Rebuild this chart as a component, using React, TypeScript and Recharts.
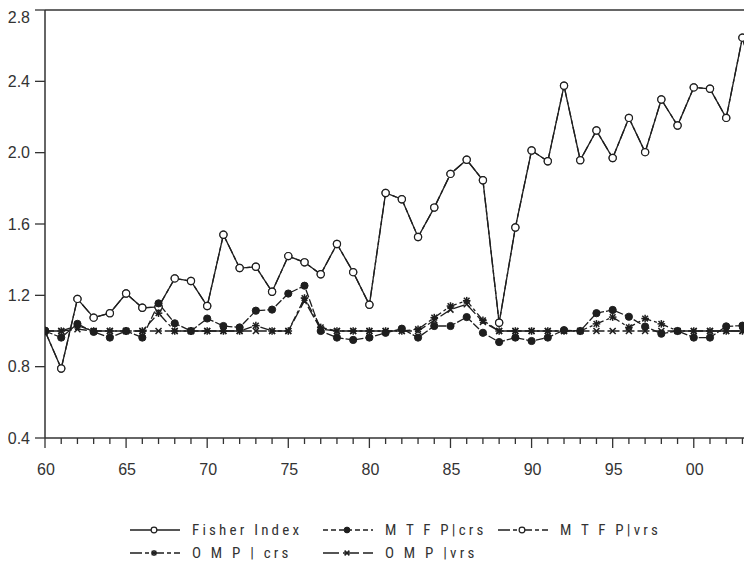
import { ComposedChart, Line, XAxis, YAxis, ReferenceLine, Legend } from "recharts";

// years 1960..2004 (the last one runs off the right edge)
const years = [
  1960, 1961, 1962, 1963, 1964, 1965, 1966, 1967, 1968, 1969,
  1970, 1971, 1972, 1973, 1974, 1975, 1976, 1977, 1978, 1979,
  1980, 1981, 1982, 1983, 1984, 1985, 1986, 1987, 1988, 1989,
  1990, 1991, 1992, 1993, 1994, 1995, 1996, 1997, 1998, 1999,
  2000, 2001, 2002, 2003, 2004,
];

const fisher = [
  1.0, 0.79, 1.18, 1.075, 1.1, 1.21, 1.13, 1.135, 1.295, 1.28,
  1.14, 1.54, 1.353, 1.36, 1.22, 1.42, 1.385, 1.318, 1.488, 1.33,
  1.147, 1.774, 1.739, 1.527, 1.692, 1.881, 1.96, 1.845, 1.046, 1.58,
  2.012, 1.952, 2.375, 1.958, 2.124, 1.97, 2.195, 2.003, 2.298, 2.152,
  2.366, 2.358, 2.195, 2.645, 2.32,
];

const mtfpCrs = [
  1.0, 0.963, 1.04, 0.995, 0.963, 1.0, 0.963, 1.155, 1.043, 1.0,
  1.07, 1.028, 1.02, 1.114, 1.12, 1.21, 1.254, 1.0, 0.963, 0.95,
  0.963, 0.99, 1.013, 0.963, 1.028, 1.028, 1.078, 0.99, 0.938, 0.963,
  0.944, 0.963, 1.005, 1.0, 1.1, 1.118, 1.08, 1.025, 0.985, 1.0,
  0.963, 0.963, 1.026, 1.03, 1.12,
];

// MTFP|vrs sits exactly under the Fisher index line in the picture
const mtfpVrs = [
  1.0, 0.79, 1.18, 1.075, 1.1, 1.21, 1.13, 1.135, 1.295, 1.28,
  1.14, 1.54, 1.353, 1.36, 1.22, 1.42, 1.385, 1.318, 1.488, 1.33,
  1.147, 1.774, 1.739, 1.527, 1.692, 1.881, 1.96, 1.845, 1.046, 1.58,
  2.012, 1.952, 2.375, 1.958, 2.124, 1.97, 2.195, 2.003, 2.298, 2.152,
  2.366, 2.358, 2.195, 2.645, 2.32,
];

const ompCrs = [
  1.0, 1.0, 1.03, 1.0, 1.0, 1.0, 1.0, 1.1, 1.0, 1.0,
  1.0, 1.0, 1.0, 1.03, 1.0, 1.0, 1.185, 1.02, 1.0, 1.0,
  1.0, 1.0, 1.0, 1.01, 1.075, 1.14, 1.17, 1.06, 1.0, 1.0,
  1.0, 1.0, 1.0, 1.0, 1.04, 1.078, 1.02, 1.07, 1.04, 1.0,
  1.0, 1.0, 1.0, 1.0, 1.0,
];

const ompVrs = [
  1.0, 1.0, 1.01, 1.0, 1.0, 1.0, 1.0, 1.0, 1.0, 1.0,
  1.0, 1.0, 1.0, 1.0, 1.0, 1.0, 1.17, 1.01, 1.0, 1.0,
  1.0, 1.0, 1.0, 1.0, 1.06, 1.12, 1.15, 1.05, 1.0, 1.0,
  1.0, 1.0, 1.0, 1.0, 1.0, 1.0, 1.0, 1.0, 1.0, 1.0,
  1.0, 1.0, 1.0, 1.0, 1.0,
];

const xTicks = years.slice(0, 44);
const xTickLabels: Record<number, string> = {
  1960: "60", 1965: "65", 1970: "70", 1975: "75",
  1980: "80", 1985: "85", 1990: "90", 1995: "95", 2000: "00",
};
const yTicks = [0.4, 0.8, 1.2, 1.6, 2.0, 2.4, 2.8];

const data = years.map((year, i) => ({
  year,
  fisher: fisher[i],
  mtfpCrs: mtfpCrs[i],
  mtfpVrs: mtfpVrs[i],
  ompCrs: ompCrs[i],
  ompVrs: ompVrs[i],
}));

const INK = "#1e1e1e";
const AXIS = "#333";

type Marker = "open" | "filled" | "star" | "cross";

function drawMarker(kind: Marker, cx: number, cy: number, s = 1) {
  if (kind === "open")
    return <circle cx={cx} cy={cy} r={3.6 * s} fill="#fff" stroke={INK} strokeWidth={1.2} />;
  if (kind === "filled") return <circle cx={cx} cy={cy} r={3.6 * s} fill={INK} stroke={INK} />;
  const d = 3.8 * s;
  if (kind === "star")
    return (
      <g stroke={INK} strokeWidth={1.5}>
        <line x1={cx - d} y1={cy} x2={cx + d} y2={cy} />
        <line x1={cx} y1={cy - d} x2={cx} y2={cy + d} />
        <line x1={cx - d * 0.75} y1={cy - d * 0.75} x2={cx + d * 0.75} y2={cy + d * 0.75} />
        <line x1={cx - d * 0.75} y1={cy + d * 0.75} x2={cx + d * 0.75} y2={cy - d * 0.75} />
      </g>
    );
  return (
    <g stroke={INK} strokeWidth={1.5}>
      <line x1={cx - 3 * s} y1={cy - 3 * s} x2={cx + 3 * s} y2={cy + 3 * s} />
      <line x1={cx - 3 * s} y1={cy + 3 * s} x2={cx + 3 * s} y2={cy - 3 * s} />
    </g>
  );
}

const makeDot = (kind: Marker) => (props: any) => {
  const { cx, cy, index } = props;
  if (cx == null || cy == null) return <g key={index} />;
  return <g key={index}>{drawMarker(kind, cx, cy)}</g>;
};

const series = [
  { key: "mtfpVrs", name: "M T F P|vrs", dash: "10 3 4 3", legendDash: "12 3 4 3", marker: "open" as Marker, col: 2, row: 0 },
  { key: "fisher", name: "Fisher Index", dash: undefined, legendDash: undefined, marker: "open" as Marker, col: 0, row: 0 },
  { key: "ompVrs", name: "O M P |vrs", dash: "12 3", legendDash: "16 4", marker: "cross" as Marker, col: 1, row: 1 },
  { key: "ompCrs", name: "O M P | crs", dash: "9 3 3 3", legendDash: "12 3 4 3", marker: "star" as Marker, col: 0, row: 1 },
  { key: "mtfpCrs", name: "M T F P|crs", dash: "8 2", legendDash: "5 3", marker: "filled" as Marker, col: 1, row: 0 },
];

const legendCols = [122, 315, 490];
const legendRows = [0, 23];

function XTick(props: any) {
  const { x, y, payload } = props;
  const label = xTickLabels[payload.value];
  return (
    <g>
      <line x1={x} y1={y} x2={x} y2={y + (label ? 10 : 6)} stroke={AXIS} strokeWidth={1.3} />
      {label && (
        <text x={x + 1} y={y + 37} textAnchor="middle" fontSize={16} fill={AXIS}
          fontFamily="'Liberation Sans', Arial, sans-serif">
          {label}
        </text>
      )}
    </g>
  );
}

function LegendBox() {
  return (
    <div style={{ position: "relative", width: 744, height: 44 }}>
      {series.map((s) => (
        <div key={s.key} style={{
          position: "absolute", left: legendCols[s.col], top: legendRows[s.row],
          display: "flex", alignItems: "center", height: 18,
        }}>
          <svg width={50} height={14} style={{ marginRight: 12 }}>
            <line x1={0} y1={7} x2={50} y2={7} stroke={INK} strokeWidth={1.3}
              strokeDasharray={s.legendDash} />
            {drawMarker(s.marker, 24, 7, 0.8)}
          </svg>
          <span style={{
            fontFamily: "'Liberation Sans Narrow', 'Roboto Condensed', Roboto, sans-serif",
            fontSize: 15, letterSpacing: 3.2, color: AXIS, whiteSpace: "pre",
          }}>
            {s.name}
          </span>
        </div>
      ))}
    </div>
  );
}

export default function App() {
  return (
    <ComposedChart
      width={744}
      height={560}
      data={data}
      margin={{ top: 2, right: 0, bottom: 100, left: 0 }}
    >
      <XAxis
        dataKey="year"
        type="number"
        domain={[1960, 2003.59]}
        allowDataOverflow
        ticks={xTicks}
        interval={0}
        tickSize={0}
        tickMargin={0}
        tickLine={false}
        tick={<XTick />}
        height={30}
        axisLine={{ stroke: AXIS, strokeWidth: 1.5 }}
      />
      <YAxis
        domain={[0.4, 2.8]}
        ticks={yTicks}
        width={37}
        tickSize={10}
        tickMargin={5}
        tickFormatter={(v: number) => v.toFixed(1)}
        tick={{ fontSize: 16, fill: AXIS, fontFamily: "'Liberation Sans', Arial, sans-serif" }}
        tickLine={{ stroke: AXIS, strokeWidth: 1.3 }}
        axisLine={{ stroke: AXIS, strokeWidth: 1.5 }}
      />
      <ReferenceLine y={2.8} stroke={AXIS} strokeWidth={1.5} />
      {series.map((s) => (
        <Line
          key={s.key}
          dataKey={s.key}
          name={s.name}
          type="linear"
          stroke={INK}
          strokeWidth={1.3}
          strokeDasharray={s.dash}
          dot={makeDot(s.marker)}
          activeDot={false}
          isAnimationActive={false}
        />
      ))}
      <Legend
        verticalAlign="middle"
        align="center"
        layout="horizontal"
        content={() => <LegendBox />}
        wrapperStyle={{ position: "absolute", left: 0, top: 513, width: 744 }}
      />
    </ComposedChart>
  );
}
